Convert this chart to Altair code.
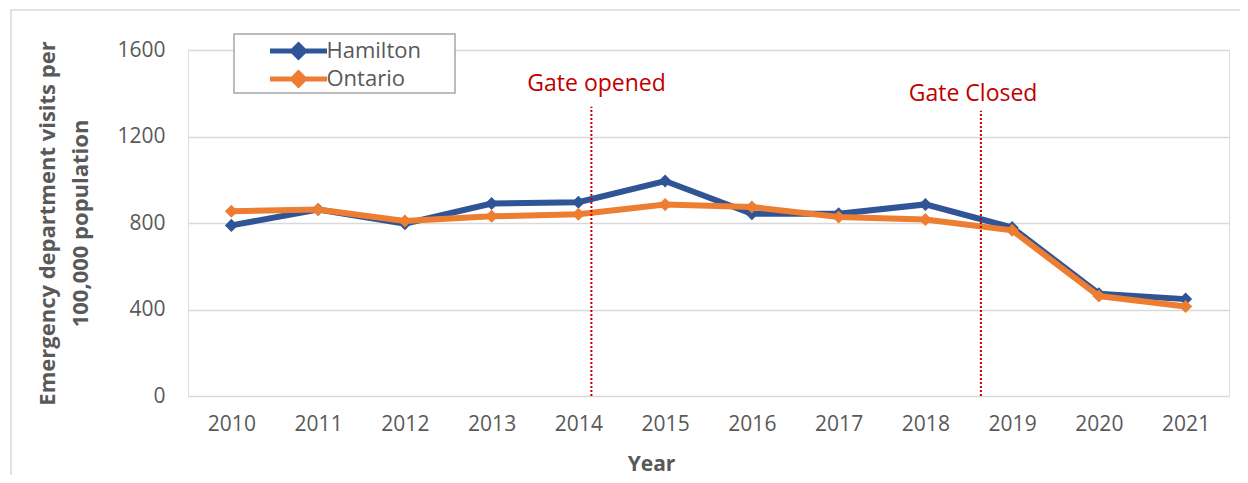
import altair as alt
import pandas as pd

years = [2010, 2011, 2012, 2013, 2014, 2015, 2016, 2017, 2018, 2019, 2020, 2021]
hamilton = [789, 862, 797, 890, 896, 994, 843, 843, 886, 779, 473, 448]
ontario = [854, 862, 809, 831, 840, 885, 874, 828, 816, 766, 462, 414]
series_names = ["Hamilton", "Ontario"]
series_colors = ["#2F5597", "#ED7D31"]
y_ticks = [0, 400, 800, 1200, 1600]

event_labels = ["Gate opened", "Gate Closed"]
event_x = [2014.15, 2018.64]
event_top = [1338, 1319]
event_label_x = [2014.21, 2018.55]
event_label_y = [1410, 1364]

FONT = "Open Sans"
GRAY = "#595959"
RED = "#C00000"

df = pd.DataFrame({
    "year": years * 2,
    "value": hamilton + ontario,
    "series": ["Hamilton"] * len(years) + ["Ontario"] * len(years),
})
ev = pd.DataFrame({"label": event_labels, "x": event_x, "top": event_top,
                   "lx": event_label_x, "ly": event_label_y, "zero": [0, 0]})

x_enc = alt.X("year:Q",
              scale=alt.Scale(domain=[2009.5, 2021.5], nice=False, zero=False),
              axis=alt.Axis(values=years, format="d", grid=False, domain=False, ticks=False,
                            labelFontSize=21, labelColor=GRAY, labelPadding=17, labelFont=FONT,
                            title="Year", titleFontSize=21, titleFont=FONT, titleFontWeight="bold",
                            titleColor=GRAY, titleX=463, titleY=74, titleBaseline="alphabetic",
                            titleAlign="center"))
y_enc = alt.Y("value:Q",
              scale=alt.Scale(domain=[0, 1600], nice=False),
              axis=alt.Axis(values=y_ticks, format="d", grid=True, gridColor="#D9D9D9", gridWidth=1.5,
                            domain=False, ticks=False, labelFontSize=21, labelColor=GRAY,
                            labelPadding=23, labelFont=FONT,
                            title=["Emergency department visits per", "100,000 population"],
                            titleFontSize=22, titleFont=FONT, titleFontWeight="bold", titleColor=GRAY,
                            titleAngle=-90, titleX=-141, titleY=173, titleAlign="center",
                            titleBaseline="middle", titleLineHeight=33))

legend = alt.Legend(title=None, orient="none", legendX=46, legendY=-14.5, direction="vertical",
                    padding=4.5,
                    symbolType="M-5.7,0 L5.7,0 M0,-1.2 L1.2,0 L0,1.2 L-1.2,0 Z",
                    symbolSize=100, symbolStrokeWidth=5, symbolOffset=49,
                    labelOffset=17, labelFontSize=22, labelColor=GRAY, labelFont=FONT,
                    rowPadding=-4)

color_enc = alt.Color("series:N", scale=alt.Scale(domain=series_names, range=series_colors),
                      legend=legend)

# legend frame (decoration behind the legend entries)
legend_box = alt.Chart(pd.DataFrame({"a": [0]})).mark_rect(
    fill="white", stroke="#A6A6A6", strokeWidth=1.5).encode(
    x=alt.value(46), x2=alt.value(267), y=alt.value(-16), y2=alt.value(43))

base = alt.Chart(df)
layers = []
for i, s in enumerate(series_names):
    sub = base.transform_filter(alt.datum.series == s)
    layers.append(sub.mark_line(strokeWidth=6).encode(x=x_enc, y=y_enc, color=color_enc))
    layers.append(sub.mark_point(shape="diamond", filled=True, size=170, opacity=1).encode(
        x=x_enc, y=y_enc, color=color_enc))

rules = alt.Chart(ev).mark_rule(color=RED, strokeWidth=2, strokeDash=[2, 2]).encode(
    x="x:Q", y="zero:Q", y2="top:Q")
texts = alt.Chart(ev).mark_text(color=RED, fontSize=23, font=FONT, align="center",
                                baseline="alphabetic").encode(x="lx:Q", y="ly:Q", text="label:N")

frame = alt.Chart(pd.DataFrame({"a": [0]})).mark_rect(
    fillOpacity=0, stroke="#D9D9D9", strokeWidth=1.5).encode(
    x=alt.value(-177), x2=alt.value(1100), y=alt.value(-40), y2=alt.value(480))

chart = alt.layer(frame, legend_box, *layers, rules, texts).properties(
    width=1041, height=346,
    autosize=alt.AutoSizeParams(type="none"),
    padding={"left": 180, "top": 42, "right": 11, "bottom": 79},
).configure_view(stroke=None).configure(font=FONT)

chart.save("out.html", embed_options={"renderer": "svg", "actions": False})
